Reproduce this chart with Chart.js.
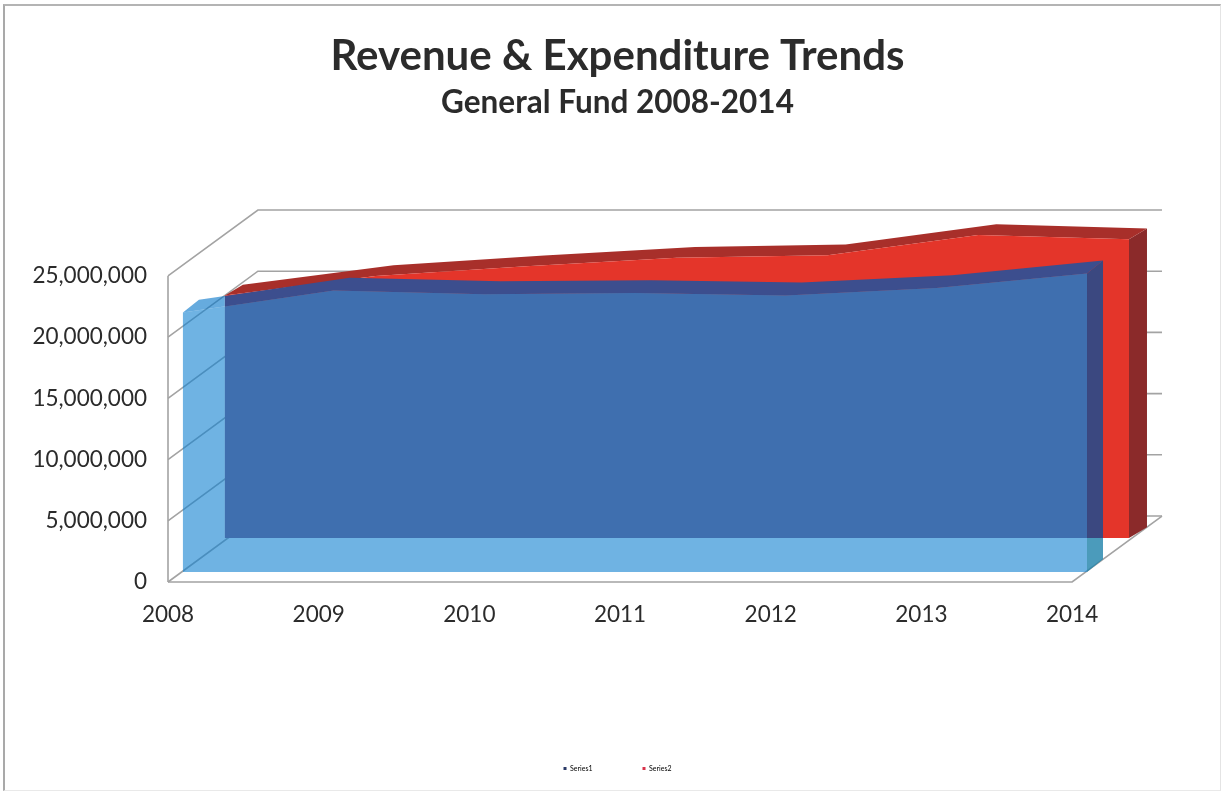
<!DOCTYPE html>
<html>
<head>
<meta charset="utf-8">
<title>Revenue &amp; Expenditure Trends</title>
<script src="https://cdn.jsdelivr.net/npm/chart.js@4"></script>
<style>
  html, body { margin: 0; background: #fff; overflow: hidden; }
  #frame { width: 1222px; height: 793px; position: relative; }
  #frame::after {
    content: ""; position: absolute; left: 3px; top: 4px; right: 1px; bottom: 2px;
    border-left: 2px solid #a9a9a9; border-top: 2px solid #b4b4b4;
    border-right: 1px solid #e4e4e4; border-bottom: 1px solid #e9e9e9;
    pointer-events: none;
  }
</style>
</head>
<body>
<div id="frame"><canvas id="chart" width="1222" height="793"></canvas></div>
<script>
// General Fund totals per fiscal year
const years = ['2008', '2009', '2010', '2011', '2012', '2013', '2014'];
const series1 = [21200000, 23000000, 22700000, 22800000, 22600000, 23200000, 24400000];
const series2 = [19800000, 21400000, 22200000, 22900000, 23100000, 24750000, 24400000];
const valueTicks = [0, 5000000, 10000000, 15000000, 20000000, 25000000];
const seriesNames = ['Series1', 'Series2'];

// Oblique projection: going from the front of the box (0) to the back wall (1)
// moves a point right along x and up along y by these data-space amounts.
const BOX_X = 0.5967;
const BOX_Y = 5390000;
// Blank run of the x scale to the right of the box
const X_MARGIN = 0.3982;
const PLANE = {
  front:     { x: 0,     y: 0 },
  blueFront: { x: 0.166, y: 0.150 },
  blueBack:  { x: 0.344, y: 0.345 },
  redFront:  { x: 0.633, y: 0.667 },
  redBack:   { x: 0.833, y: 0.830 },
  back:      { x: 1,     y: 1 }
};
const at = (i, v, plane) => ({ x: i + PLANE[plane].x * BOX_X, y: v + PLANE[plane].y * BOX_Y });
const last = years.length - 1;

// Faces of one extruded area series
const frontFace = (vals, p) => [at(0, 0, p), ...vals.map((v, i) => at(i, v, p)), at(last, 0, p)];
const topFace = (vals, p, q) => [
  ...vals.map((v, i) => at(i, v, p)),
  ...vals.map((v, i) => at(i, v, q)).reverse()
];
const sideFace = (vals, p, q) => [at(last, 0, p), at(last, vals[last], p), at(last, vals[last], q), at(last, 0, q)];

const face = (data, color, within) => ({
  data, within, backgroundColor: color, fill: 'shape',
  borderWidth: 0, pointRadius: 0, tension: 0, clip: false
});
const rule = (data) => ({
  data, fill: false, borderColor: '#a3a3a3', borderWidth: 1.6,
  pointRadius: 0, tension: 0, clip: false
});

// Box rules: value gridlines along the left and back walls, axis, floor edges
const rules = [
  ...valueTicks.map(t => rule([at(0, t, 'front'), at(0, t, 'back'), at(last, t, 'back')])),
  rule([at(0, 0, 'front'), at(0, valueTicks[valueTicks.length - 1], 'front')]),
  rule([at(0, 0, 'front'), at(last, 0, 'front'), at(last, 0, 'back')])
];

// Listed back to front. "within" limits a face to the part behind or clear of Series2's front.
const layers = [
  ...rules,
  face(sideFace(series2, 'redFront', 'redBack'), '#8b2a2a'),
  face(topFace(series2, 'redFront', 'redBack'), '#a82f2a'),
  face(frontFace(series2, 'redFront'), '#e4352a'),
  face(sideFace(series1, 'blueFront', 'blueBack'), 'rgba(30,130,170,0.8)', 'clear'),
  face(sideFace(series1, 'blueFront', 'blueBack'), '#3b4880', 'over'),
  face(topFace(series1, 'blueFront', 'blueBack'), 'rgba(0,115,200,0.6)', 'clear'),
  face(topFace(series1, 'blueFront', 'blueBack'), '#3c4e8e', 'over'),
  face(frontFace(series1, 'blueFront'), 'rgba(15,128,208,0.6)'),
  face(frontFace(series1, 'blueFront'), '#3f6faf', 'over')
];

// Restricts a face to the rectangle of Series2's front plane, or to what lies outside it.
const faceClip = {
  id: 'faceClip',
  beforeDatasetDraw(chart, args) {
    const within = chart.data.datasets[args.index].within;
    if (!within) return;
    const { ctx, width, height } = chart;
    const corner = at(0, 0, 'redFront');
    const left = chart.scales.x.getPixelForValue(corner.x);
    const bottom = chart.scales.y.getPixelForValue(corner.y);
    ctx.save();
    ctx.beginPath();
    if (within === 'over') {
      ctx.rect(left, 0, width - left, bottom);
    } else {
      ctx.rect(0, 0, left, height);
      ctx.rect(left, bottom, width - left, height - bottom);
    }
    ctx.clip();
  },
  afterDatasetDraw(chart, args) {
    if (chart.data.datasets[args.index].within) chart.ctx.restore();
  }
};
// The clip must be in place before the filler paints each face.
Chart.unregister(Chart.Filler);
Chart.register(faceClip, Chart.Filler);

const FONT = 'Lato';
const INK = '#2b2b2b';

new Chart(document.getElementById('chart'), {
  type: 'line',
  data: { datasets: layers.slice().reverse() },
  options: {
    responsive: false,
    animation: false,
    layout: { padding: { left: 13, right: 0, top: 0, bottom: 18 } },
    scales: {
      x: {
        type: 'linear',
        min: 0,
        max: last + BOX_X + X_MARGIN,
        grid: { display: false },
        border: { display: false },
        afterBuildTicks: s => { s.ticks = years.map((_, i) => ({ value: i })); },
        afterFit: s => { s.height = 133; },
        ticks: {
          callback: v => years[v],
          autoSkip: false, maxRotation: 0, padding: 11,
          color: INK, font: { family: FONT, size: 22.5 }
        }
      },
      y: {
        min: 0,
        max: valueTicks[valueTicks.length - 1] + BOX_Y,
        grid: { display: false },
        border: { display: false },
        afterBuildTicks: s => { s.ticks = valueTicks.map(value => ({ value })); },
        afterFit: s => { s.width = 155; },
        ticks: {
          callback: v => v.toLocaleString('en-US'),
          padding: 13,
          color: INK, font: { family: FONT, size: 22.5 }
        }
      }
    },
    plugins: {
      title: {
        display: true,
        text: 'Revenue & Expenditure Trends',
        color: '#2b2b2b',
        font: { family: FONT, size: 42, weight: 'bold', lineHeight: 1.2 },
        padding: { top: 31, bottom: 2.6 }
      },
      subtitle: {
        display: true,
        text: 'General Fund 2008-2014',
        color: '#2b2b2b',
        font: { family: FONT, size: 31.5, weight: 'bold', lineHeight: 1.2 },
        padding: { top: 0, bottom: 88.2 }
      },
      legend: {
        position: 'bottom',
        maxHeight: 60,
        labels: {
          boxWidth: 3, boxHeight: 3, padding: 50,
          color: '#444', font: { family: FONT, size: 7 },
          generateLabels: () => [
            { text: seriesNames[0], fillStyle: '#2b3a67', strokeStyle: '#2b3a67', lineWidth: 0 },
            { text: seriesNames[1], fillStyle: '#d8324a', strokeStyle: '#d8324a', lineWidth: 0 }
          ]
        }
      },
      tooltip: { enabled: false }
    }
  }
});
</script>
</body>
</html>
